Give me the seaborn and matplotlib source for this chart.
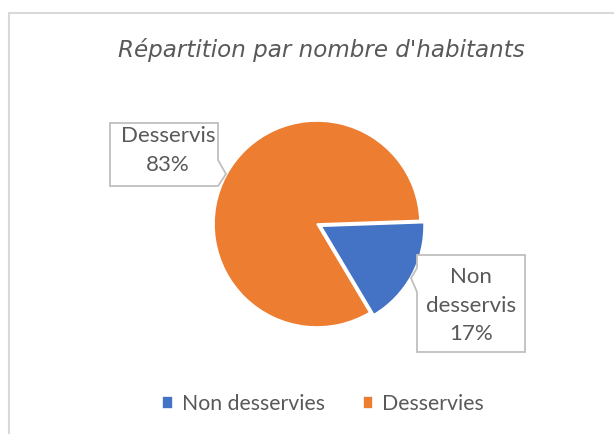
import matplotlib
matplotlib.use("Agg")
import matplotlib.pyplot as plt
import seaborn as sns
from matplotlib.patches import Polygon
from matplotlib.lines import Line2D

# données
categories = ["Non desservies", "Desservies"]
slice_labels = ["Non\ndesservis", "Desservis"]
shares = [17, 83]
colors = ["#4472C4", "#ED7D31"]
title = "Répartition par nombre d'habitants"

sns.set_theme(style="white")
plt.rcParams["font.family"] = ["Lato", "DejaVu Sans"]

W, H = 614, 434
fig = plt.figure(figsize=(W / 100, H / 100), dpi=100)
fig.patch.set_facecolor("white")


def fx(x):
    return x / W


def fy(y):
    return 1 - y / H


# cadre du graphique (haut et gauche visibles)
border = "#D9D9D9"
fig.add_artist(Line2D([fx(9), 1], [fy(13), fy(13)], color=border, lw=1.5))
fig.add_artist(Line2D([fx(9), fx(9)], [fy(13), 0], color=border, lw=1.5))

# camembert
cx, cy, r = 317, 224, 103
half = r * 1.2
ax = fig.add_axes([fx(cx - half), fy(cy + half), 2 * half / W, 2 * half / H])
wedges, _ = ax.pie(shares, colors=colors, startangle=2, counterclock=False,
                   explode=[0.045, 0],
                   wedgeprops=dict(edgecolor="white", linewidth=1.2))
ax.set_xlim(-1.2, 1.2)
ax.set_ylim(-1.2, 1.2)
ax.set_axis_off()

fig.text(fx(321), fy(50), title, ha="center", va="center", fontsize=16.6,
         style="italic", color="#595959", family=["DejaVu Sans"])

# étiquettes en bulles
text_color = "#595959"
box_color = "#BFBFBF"
callouts = {
    1: [(110, 123), (218, 123), (218, 160), (226, 174), (218, 186), (110, 186)],
    0: [(417, 255), (525, 255), (525, 352), (417, 352), (417, 292), (411, 278),
        (417, 268)],
}
for i, pts in callouts.items():
    poly = Polygon([(fx(x), fy(y)) for x, y in pts], closed=True,
                   transform=fig.transFigure, facecolor="white",
                   edgecolor=box_color, lw=1.3)
    fig.add_artist(poly)
    xs = [p[0] for p in pts[:4]]
    ys = [p[1] for p in pts[:4]]
    tx = (min(xs) + max(xs)) / 2
    ty = (min(ys) + max(ys)) / 2
    fig.text(fx(tx), fy(ty + 2), f"{slice_labels[i]}\n{shares[i]}%",
             ha="center", va="center", fontsize=16, color=text_color,
             linespacing=1.52)

# légende
fig.legend(wedges, categories, loc="center", bbox_to_anchor=(fx(323), fy(404)),
           ncol=2, frameon=False, fontsize=15.3, labelcolor=text_color,
           handlelength=0.5, handleheight=0.5, handletextpad=0.4,
           columnspacing=1.8)

fig.savefig("out.png", dpi=100)
